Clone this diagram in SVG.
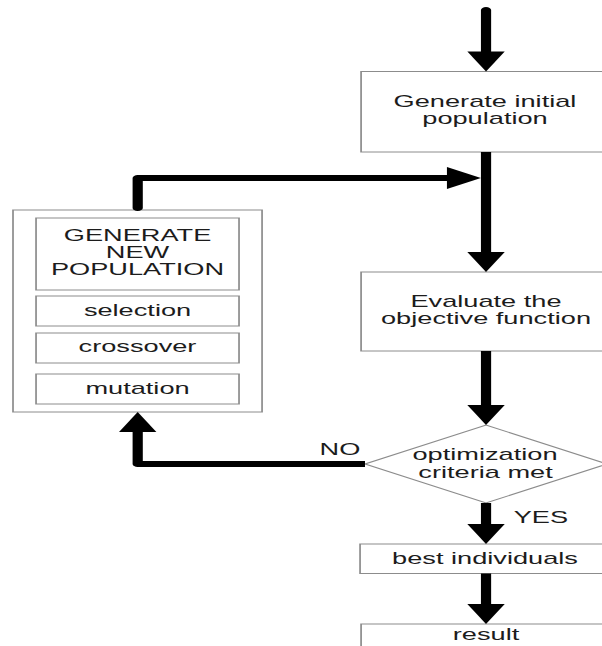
<svg xmlns="http://www.w3.org/2000/svg" width="602" height="646" viewBox="0 0 602 646">
  <style>
    .box{fill:#fff;stroke:#8c8c8c;stroke-width:1}
    .lbl{font-family:"Liberation Sans",Arial,sans-serif;font-size:16px;fill:#1c1c1c;text-anchor:middle}
    .flow{fill:none;stroke:#000;stroke-width:6;stroke-linejoin:round;marker-end:url(#head)}
    .cap{stroke-linecap:round}
  </style>
  <defs>
    <marker id="head" markerUnits="userSpaceOnUse" markerWidth="20" markerHeight="22" refX="0" refY="11" orient="auto" overflow="visible">
      <path d="M0,0 L20,11 L0,22 Z" fill="#000"/>
    </marker>
  </defs>
  <rect width="602" height="646" fill="#fff"/>
  <!-- whole chart is drawn with a horizontal stretch -->
  <g transform="scale(1.7,1)">
    <g id="init">
      <rect class="box" x="212.4" y="71.5" width="150" height="80.5"/>
      <text class="lbl" x="285.3" y="107.5">Generate initial</text>
      <text class="lbl" x="285.3" y="124.5">population</text>
    </g>
    <g id="evaluate">
      <rect class="box" x="212.4" y="272" width="150" height="79"/>
      <text class="lbl" x="285.9" y="307.5">Evaluate the</text>
      <text class="lbl" x="285.9" y="324.5">objective function</text>
    </g>
    <g id="decision">
      <polygon class="box" points="214.7,464 285.9,425 357.1,464 285.9,503"/>
      <text class="lbl" x="285.3" y="460">optimization</text>
      <text class="lbl" x="285.6" y="478">criteria met</text>
    </g>
    <g id="best">
      <rect class="box" x="211.8" y="544" width="150" height="29.5"/>
      <text class="lbl" x="285.3" y="564">best individuals</text>
    </g>
    <g id="result">
      <rect class="box" x="212.4" y="624" width="150" height="30"/>
      <text class="lbl" x="285.9" y="640">result</text>
    </g>
    <g id="new-population">
      <rect class="box" x="7.65" y="210" width="146.5" height="202"/>
      <rect class="box" x="21.2" y="218" width="119.4" height="72"/>
      <text class="lbl" x="80.9" y="241.5">GENERATE</text>
      <text class="lbl" x="80.9" y="258.5">NEW</text>
      <text class="lbl" x="80.9" y="275.5">POPULATION</text>
      <rect class="box" x="21.2" y="296" width="119.4" height="30"/>
      <text class="lbl" x="80.9" y="316">selection</text>
      <rect class="box" x="21.2" y="333" width="119.4" height="30"/>
      <text class="lbl" x="80.9" y="352">crossover</text>
      <rect class="box" x="21.2" y="374" width="119.4" height="30"/>
      <text class="lbl" x="80.9" y="394">mutation</text>
    </g>
    <g id="connectors">
      <path class="flow cap" d="M285.9,10 V51.5"/>
      <path class="flow" d="M285.9,152 V252"/>
      <path class="flow cap" d="M81,208 V178 H262.9"/>
      <path class="flow" d="M285.9,351 V405"/>
      <path class="flow" d="M214.7,464 H81 V432"/>
      <path class="flow" d="M285.9,503 V524"/>
      <path class="flow" d="M285.9,573.5 V604"/>
      <text class="lbl" x="200" y="455">NO</text>
      <text class="lbl" x="318.2" y="523">YES</text>
    </g>
  </g>
</svg>
